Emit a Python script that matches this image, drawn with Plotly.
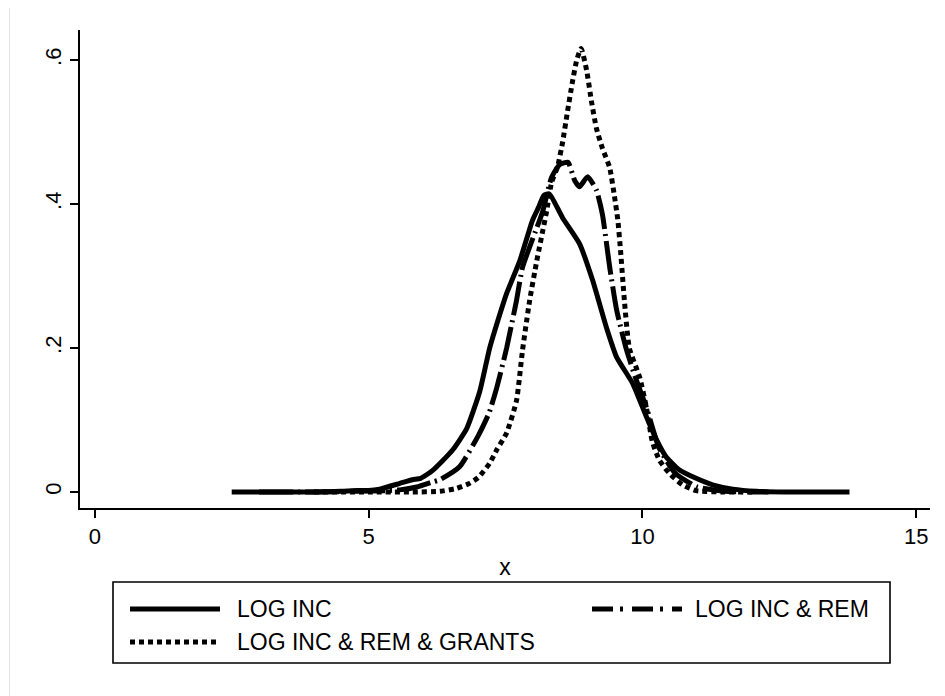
import plotly.graph_objects as go

# ---- data ----
inc_x = [2.5, 3.0, 3.5, 4.0, 4.5, 4.8, 5.0, 5.2, 5.57, 5.8, 5.95, 6.17, 6.53, 6.79, 7.03, 7.21,
         7.4, 7.52, 7.76, 7.99, 8.1, 8.2, 8.3, 8.54, 8.85, 9.09, 9.34, 9.53, 9.82, 10.07, 10.26,
         10.43, 10.67, 10.98, 11.28, 11.65, 12.08, 12.6, 13.2, 13.78]
inc_y = [0, 0, 0, 0, 0.001, 0.002, 0.002, 0.004, 0.012, 0.017, 0.019, 0.03, 0.058, 0.088, 0.14, 0.2,
         0.248, 0.276, 0.321, 0.377, 0.395, 0.412, 0.414, 0.381, 0.345, 0.294, 0.229, 0.187, 0.151, 0.105, 0.072,
         0.049, 0.031, 0.019, 0.01, 0.004, 0.001, 0, 0, 0]

rem_x = [3.0, 4.0, 4.8, 5.33, 5.57, 5.88, 6.17, 6.3, 6.66, 7.0, 7.2, 7.34, 7.52, 7.7, 7.81, 8.07,
         8.18, 8.34, 8.49, 8.64, 8.76, 8.85, 9.0, 9.16, 9.27, 9.4, 9.53, 9.71, 9.89, 10.07, 10.3,
         10.6, 11.0, 11.5, 12.3]
rem_y = [0, 0, 0.001, 0.002, 0.003, 0.007, 0.014, 0.017, 0.035, 0.078, 0.11, 0.145, 0.2, 0.266, 0.312, 0.367,
         0.39, 0.437, 0.455, 0.458, 0.433, 0.424, 0.438, 0.419, 0.385, 0.313, 0.252, 0.197, 0.155, 0.118, 0.062,
         0.026, 0.007, 0.001, 0]

grants_x = [4.0, 5.0, 5.8, 6.3, 6.6, 6.84, 7.0, 7.21, 7.35, 7.52, 7.7, 7.81, 7.94, 8.07, 8.25, 8.34,
            8.45, 8.54, 8.63, 8.72, 8.8, 8.88, 8.98, 9.07, 9.16, 9.27, 9.4, 9.49, 9.55, 9.6, 9.67,
            9.76, 9.95, 10.07, 10.18, 10.31, 10.49, 10.73, 10.98, 11.5, 12.0]
grants_y = [0, 0, 0, 0.001, 0.005, 0.012, 0.02, 0.04, 0.06, 0.082, 0.127, 0.197, 0.266, 0.321, 0.39, 0.43,
            0.452, 0.485, 0.528, 0.569, 0.6, 0.616, 0.586, 0.542, 0.505, 0.477, 0.451, 0.41, 0.378, 0.335, 0.266,
            0.2, 0.159, 0.118, 0.07, 0.044, 0.026, 0.01, 0.002, 0, 0]

series_names = ["LOG INC", "LOG INC & REM", "LOG INC & REM & GRANTS"]
x_tick_vals = [0, 5, 10, 15]
y_tick_vals = [0, 0.2, 0.4, 0.6]
y_tick_text = ["0", ".2", ".4", ".6"]

FONT = "Arial, Liberation Sans, Helvetica, sans-serif"
W, H = 945, 696
PAGE_OFF = 8  # default page body margin
# plot area in page pixels: x 80..930, y 30..508
ML, MT = 80 - PAGE_OFF, 30 - PAGE_OFF
PW, PH = 850, 478
MR, MB = W - ML - PW, H - MT - PH

DASH_REM_PLOT = "34px,5px,2px,5px"
DASH_REM_LEG = "21px,7px,3px,9px"
DASH_GR = "5px,4px"
LW = 5

fig = go.Figure()
fig.add_trace(go.Scatter(x=inc_x, y=inc_y, mode="lines", name=series_names[0],
                         line=dict(color="black", width=LW, shape="spline", smoothing=0.5),
                         showlegend=False))
fig.add_trace(go.Scatter(x=rem_x, y=rem_y, mode="lines", name=series_names[1],
                         line=dict(color="black", width=LW, dash=DASH_REM_PLOT, shape="spline", smoothing=0.5),
                         showlegend=False))
fig.add_trace(go.Scatter(x=grants_x, y=grants_y, mode="lines", name=series_names[2],
                         line=dict(color="black", width=LW, dash=DASH_GR, shape="spline", smoothing=0.5),
                         showlegend=False))


def px_x(p):
    return (p - PAGE_OFF - ML) / PW


def px_y(p):
    return (MT + PH - (p - PAGE_OFF)) / PH


shapes = []
annotations = []
# legend box
shapes.append(dict(type="rect", xref="paper", yref="paper",
                   x0=px_x(113), x1=px_x(890), y0=px_y(582), y1=px_y(663),
                   line=dict(color="black", width=1.6), fillcolor="white", layer="above"))
legend_items = [
    (series_names[0], 130, 220, 609, 235, None),
    (series_names[1], 592, 682, 609, 693, DASH_REM_LEG),
    (series_names[2], 130, 220, 642, 235, DASH_GR),
]
for name, sx0, sx1, sy, tx, dash in legend_items:
    ln = dict(color="black", width=LW)
    if dash:
        ln["dash"] = dash
    shapes.append(dict(type="line", xref="paper", yref="paper",
                       x0=px_x(sx0), x1=px_x(sx1), y0=px_y(sy), y1=px_y(sy), line=ln, layer="above"))
    annotations.append(dict(text=name, xref="paper", yref="paper", x=px_x(tx), y=px_y(sy),
                            xanchor="left", yanchor="middle", showarrow=False,
                            font=dict(family=FONT, size=23, color="black")))
# faint outer frame line on the left
shapes.append(dict(type="line", xref="paper", yref="paper",
                   x0=px_x(9.5), x1=px_x(9.5), y0=px_y(5), y1=px_y(H + 20),
                   line=dict(color="#e4e4e4", width=1)))

fig.update_layout(
    width=W, height=H,
    margin=dict(l=ML, r=MR, t=MT, b=MB),
    paper_bgcolor="white", plot_bgcolor="white",
    font=dict(family=FONT, size=22, color="black"),
    showlegend=False,
    shapes=shapes, annotations=annotations,
    xaxis=dict(range=[-0.27, 15.25], tickvals=x_tick_vals, showgrid=False, zeroline=False,
               showline=True, linecolor="black", linewidth=1.5,
               ticks="outside", ticklen=8, tickwidth=1.5, tickcolor="black",
               tickfont=dict(family=FONT, size=22),
               title=dict(text="x", font=dict(family=FONT, size=23), standoff=11)),
    yaxis=dict(range=[-0.0222, 0.6417], tickvals=y_tick_vals, ticktext=y_tick_text,
               showgrid=False, zeroline=False,
               showline=True, linecolor="black", linewidth=1.5,
               ticks="outside", ticklen=8, tickwidth=1.5, tickcolor="black",
               tickangle=-90, tickfont=dict(family=FONT, size=22)),
)

fig.write_html("out.html")
